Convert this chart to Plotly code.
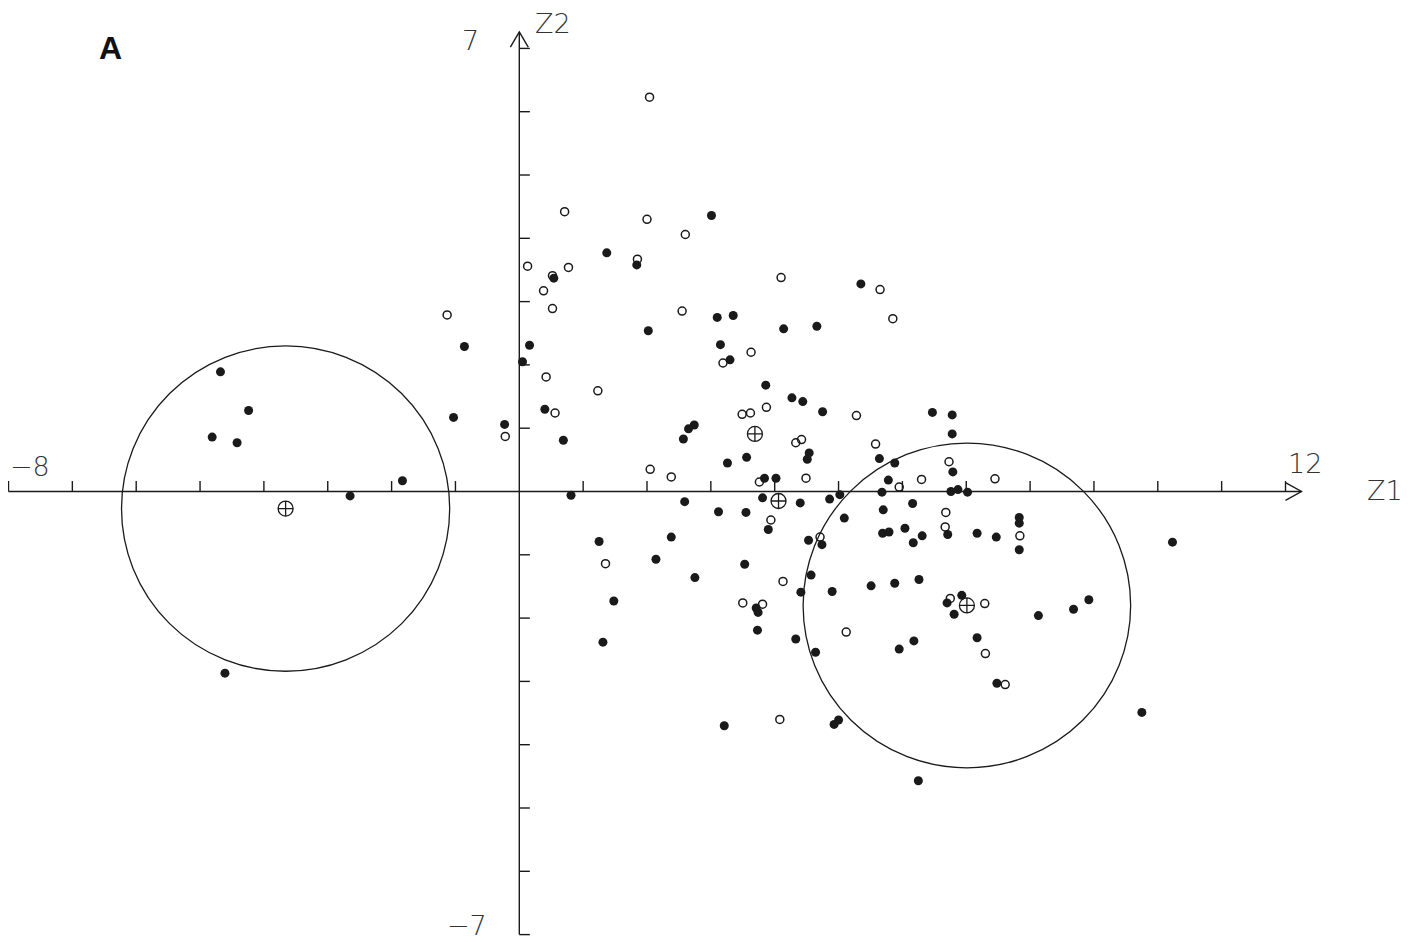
import plotly.graph_objects as go

# ---- data (Z1, Z2 discriminant scores) ----
filled_z1 = [-4.68, -4.24, -4.81, -4.42, -1.83, -2.65, -4.61, -1.03, -0.86, 0.16,
             0.05, 0.40, -0.23, 0.69, 0.81, 1.37, 1.84, 0.54, 3.01, 2.02,
             3.10, 3.35, 4.14, 4.66, 5.35, 3.15, 3.30, 3.86, 4.27, 4.44,
             4.75, 6.47, 6.78, 6.78, 2.65, 2.74, 2.57, 3.56, 4.54, 4.51,
             5.64, 5.88, 3.26, 6.79, 3.84, 4.02, 5.78, 6.76, 6.87, 7.02,
             3.81, 4.40, 4.86, 5.02, 5.68, 2.59, 3.12, 3.55, 3.90, 5.09,
             5.70, 6.16, 6.71, 7.17, 7.47, 5.69, 5.79, 6.04, 6.31, 6.17,
             4.53, 4.74, 7.83, 7.83, 7.83, 10.23, 2.38, 1.25, 2.14, 2.75,
             3.53, 4.57, 4.41, 4.90, 5.51, 5.88, 6.26, 3.71, 3.74, 6.93,
             6.70, 6.81, 8.13, 8.68, 8.92, 3.73, 4.33, 4.64, 5.95, 6.18,
             7.17, 7.48, 9.75, 3.21, 4.93, 5.00, 6.25, 1.48, 1.31]
filled_z2 = [1.89, 1.28, 0.86, 0.77, 0.17, -0.07, -2.87, 1.17, 2.29, 2.31,
             2.05, 1.30, 1.06, 0.81, -0.06, 3.77, 3.58, 3.37, 4.36, 2.54,
             2.75, 2.78, 2.57, 2.61, 3.28, 2.32, 2.08, 1.68, 1.48, 1.42,
             1.26, 1.25, 1.21, 0.91, 0.99, 1.05, 0.83, 0.54, 0.61, 0.51,
             0.52, 0.45, 0.45, 0.31, 0.21, 0.21, 0.18, 0.00, 0.03, -0.01,
             -0.10, -0.18, -0.12, -0.05, -0.01, -0.16, -0.32, -0.33, -0.60, -0.42,
             -0.29, -0.19, -0.68, -0.66, -0.72, -0.66, -0.64, -0.58, -0.70, -0.81,
             -0.77, -0.84, -0.41, -0.50, -0.92, -0.80, -0.72, -0.79, -1.07, -1.36,
             -1.15, -1.32, -1.59, -1.58, -1.49, -1.45, -1.39, -1.84, -1.91, -1.64,
             -1.76, -1.94, -1.96, -1.86, -1.71, -2.19, -2.33, -2.54, -2.49, -2.36,
             -2.31, -3.03, -3.49, -3.70, -3.68, -3.61, -4.57, -1.73, -2.38]

open_z1 = [-1.13, -0.22, 2.04, 0.71, 2.00, 2.60, 1.85, 0.13, 0.77, 0.52,
           4.10, 0.38, 0.52, 2.55, 5.65, 5.85, 3.63, 3.19, 0.42, 1.23,
           0.56, 3.49, 3.62, 3.87, 5.28, 4.33, 4.42, 5.58, 6.73, 3.76,
           4.49, 5.95, 6.30, 7.45, 3.94, 6.68, 6.67, 4.71, 7.84, 2.05,
           2.38, 1.35, 4.13, 3.50, 3.81, 6.75, 7.29, 5.12, 7.30, 7.61, 4.08]
open_z2 = [2.79, 0.87, 6.23, 4.42, 4.30, 4.06, 3.67, 3.56, 3.54, 3.41,
           3.38, 3.17, 2.89, 2.85, 3.19, 2.73, 2.20, 2.03, 1.81, 1.59,
           1.24, 1.22, 1.24, 1.33, 1.20, 0.77, 0.82, 0.75, 0.47, 0.15,
           0.21, 0.07, 0.19, 0.20, -0.45, -0.33, -0.56, -0.72, -0.70, 0.35,
           0.23, -1.14, -1.42, -1.76, -1.78, -1.69, -1.77, -2.22, -2.56, -3.05, -3.60]

centroid_z1 = [-3.66, 3.69, 4.06, 7.01]
centroid_z2 = [-0.27, 0.91, -0.15, -1.80]

circle_cx = [-3.66, 7.01]
circle_cy = [-0.27, -1.80]
circle_r = [2.57, 2.565]

x_ticks = list(range(-8, 13))
y_ticks = list(range(-7, 8))

# ---- figure ----
W, H = 1423, 942
OFF = 8  # page body margin offset
XR = [(OFF - 519.3) / 63.85, (OFF - 519.3) / 63.85 + W / 63.85]
YR = [(491.5 - OFF) / 63.3 - H / 63.3, (491.5 - OFF) / 63.3]
ink = "#1a1a1a"

fig = go.Figure()

fig.add_trace(go.Scatter(x=filled_z1, y=filled_z2, mode="markers",
                         marker=dict(symbol="circle", size=9, color=ink, line=dict(width=0)),
                         hoverinfo="x+y"))
fig.add_trace(go.Scatter(x=open_z1, y=open_z2, mode="markers",
                         marker=dict(symbol="circle-open", size=8, color=ink, line=dict(width=1.5)),
                         hoverinfo="x+y"))
fig.add_trace(go.Scatter(x=centroid_z1, y=centroid_z2, mode="markers",
                         marker=dict(symbol="circle-cross-open", size=15, color=ink, line=dict(width=1.3)),
                         hoverinfo="x+y"))

shapes = []
line_style = dict(color=ink, width=1.4)
# axes
shapes.append(dict(type="line", x0=-8, y0=0, x1=12.25, y1=0, line=line_style))
shapes.append(dict(type="line", x0=0, y0=-7, x1=0, y1=7.26, line=line_style))
# arrow heads
shapes.append(dict(type="path", path="M 12.0,0.14 L 12.25,0 L 12.0,-0.14", line=line_style))
shapes.append(dict(type="path", path="M -0.14,7.02 L 0,7.26 L 0.14,7.02", line=line_style))
# ticks
for t in x_ticks:
    if t != 0:
        shapes.append(dict(type="line", x0=t, y0=0, x1=t, y1=0.165, line=line_style))
for t in y_ticks:
    if t != 0:
        shapes.append(dict(type="line", x0=0, y0=t, x1=0.165, y1=t, line=line_style))
# circles
for cx, cy, r in zip(circle_cx, circle_cy, circle_r):
    shapes.append(dict(type="circle", xref="x", yref="y",
                       x0=cx - r, x1=cx + r, y0=cy - r, y1=cy + r,
                       line=dict(color=ink, width=1.3)))

lab_font = dict(family="DejaVu Sans", size=27, color="#333333", weight=200)
annotations = [
    dict(x=-0.76, y=7.13, text="7", showarrow=False, font=lab_font, borderpad=0),
    dict(x=0.52, y=7.40, text="Z2", showarrow=False, font=lab_font, borderpad=0),
    dict(x=-7.66, y=0.40, text="\u22128", showarrow=False, font=lab_font, borderpad=0),
    dict(x=12.3, y=0.45, text="12", showarrow=False, font=lab_font, borderpad=0),
    dict(x=13.56, y=0.02, text="Z1", showarrow=False, font=lab_font, borderpad=0),
    dict(x=-0.82, y=-6.86, text="\u22127", showarrow=False, font=lab_font, borderpad=0),
    dict(x=(110 - OFF) / W, y=1 - (48 - OFF) / H, xref="paper", yref="paper",
         xanchor="center", yanchor="middle", text="<b>A</b>",
         showarrow=False, font=dict(family="Liberation Sans", size=32, color="#111111")),
]

fig.update_layout(
    width=W, height=H,
    margin=dict(l=0, r=0, t=0, b=0),
    paper_bgcolor="white", plot_bgcolor="white",
    showlegend=False,
    xaxis=dict(range=XR, visible=False, fixedrange=True),
    yaxis=dict(range=YR, visible=False, fixedrange=True),
    shapes=shapes,
    annotations=annotations,
)

fig.write_html("out.html")
